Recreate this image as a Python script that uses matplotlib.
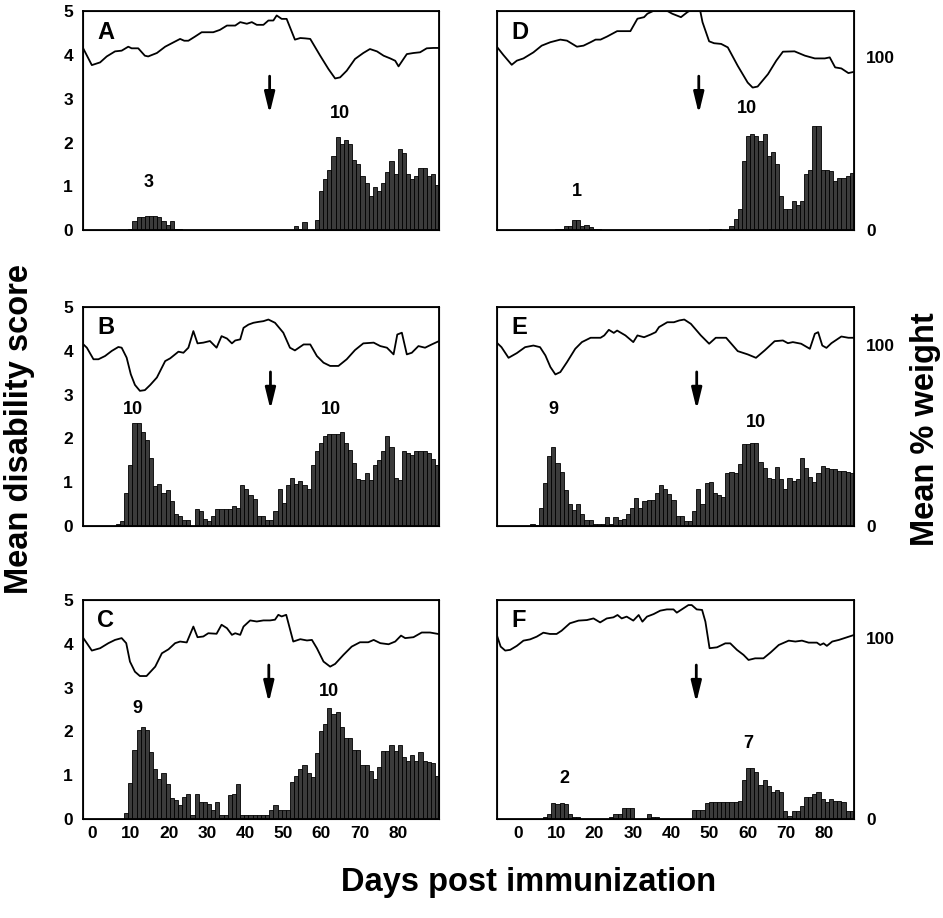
import numpy as np
import matplotlib
matplotlib.use("Agg")
import matplotlib.pyplot as plt

plt.rcParams["font.family"] = ["Liberation Sans", "DejaVu Sans"]
plt.rcParams["font.weight"] = "bold"

# bar slots (one bar per observation, 86 slots across each panel)
N_SLOTS = 86

score_A = ([0] * 11
           + [0.03, 0.2, 0.3, 0.3, 0.33, 0.33, 0.33, 0.3, 0.2, 0.12, 0.2, 0.03, 0.03]
           + [0] * 27
           + [0.08, 0.02, 0.19, 0, 0]
           + [0.23, 0.89, 1.16, 1.37, 1.69, 2.12, 1.96, 2.07, 1.96, 1.61,
              1.51, 1.23, 1.07, 0.78, 0.99, 0.89, 1.07, 1.33, 1.58, 1.28,
              1.86, 1.77, 1.28, 1.16, 1.23, 1.41, 1.41, 1.23, 1.28, 1.03])

score_B = ([0] * 8
           + [0.04, 0.1, 0.74, 1.4, 2.34, 2.34, 2.14, 1.97, 1.55, 0.92,
              0.95, 0.74, 0.81, 0.57, 0.26, 0.22, 0.12, 0.12, 0, 0.39,
              0.33, 0.15, 0.11, 0.22, 0.39, 0.39, 0.39, 0.39, 0.46, 0.41,
              0.93, 0.83, 0.71, 0.61, 0.23, 0.23, 0.13, 0.13, 0.33, 0.83,
              0.51, 0.93, 1.09, 0.95, 1.02, 0.93, 0.83, 1.4, 1.72, 1.89,
              2.06, 2.1, 2.1, 2.1, 2.14]
           + [1.89, 1.74, 1.43, 1.08, 1.04, 1.21, 1.05, 1.4, 1.51, 1.72,
              2.06, 1.8, 1.09, 1.04, 1.72, 1.66, 1.63, 1.72, 1.72, 1.72,
              1.66, 1.53, 1.38])

score_C = ([0] * 10
           + [0.13, 0.83, 1.57, 2.03, 2.1, 2.03, 1.53, 1.14, 0.91, 1.05,
              0.8, 0.47, 0.44, 0.31, 0.49, 0.58, 0.09, 0.58, 0.38, 0.38,
              0.34, 0.21, 0.38, 0.09, 0.09, 0.55, 0.58, 0.8]
           + [0.09] * 7
           + [0.21, 0.31, 0.21, 0.21, 0.21]
           + [0.84, 0.97, 1.15, 1.23, 1.05, 0.95, 1.51, 2.0, 2.17, 2.53,
              2.39, 2.45, 2.1, 1.85, 1.85, 1.58, 1.58, 1.23, 1.23, 1.09,
              0.91, 1.19, 1.55, 1.55, 1.68, 1.55, 1.68, 1.41, 1.32, 1.45,
              1.32, 1.53, 1.33, 1.3, 1.28, 0.97])

score_D = ([0] * 14
           + [0.02, 0.02, 0.1, 0.1, 0.22, 0.22, 0.1, 0.12, 0.06, 0.02, 0.02]
           + [0] * 26
           + [0.03, 0.03, 0.03, 0, 0]
           + [0.1, 0.25, 0.48, 1.58, 2.15, 2.19, 2.15, 2.04, 2.19, 1.69,
              1.79, 1.51, 0.77, 0.48, 0.48, 0.66, 0.58, 0.66, 1.27, 1.37,
              2.37, 2.37, 1.37, 1.37, 1.34, 1.12, 1.2, 1.2, 1.23, 1.31])

score_E = ([0] * 8
           + [0.04, 0.02]
           + [0.4, 0.98, 1.59, 1.8, 1.44, 1.23, 0.81, 0.49, 0.36, 0.49,
              0.26, 0.13, 0.13, 0.05, 0.05, 0.05, 0.2, 0.05, 0.2, 0.13,
              0.15, 0.26, 0.4, 0.64, 0.4, 0.57, 0.6, 0.59, 0.74, 0.93,
              0.83, 0.72, 0.6, 0.22, 0.22, 0.11, 0.11, 0.33, 0.83, 0.49,
              0.97, 1.0, 0.74, 0.7, 0.65, 1.21, 1.23, 1.21, 1.42, 1.88,
              1.88, 1.9, 1.9, 1.45, 1.31, 1.1, 1.06, 1.35, 1.06, 0.83,
              1.1, 1.02, 1.06, 1.56, 1.31, 1.12, 1.0, 1.21, 1.36, 1.33,
              1.29, 1.29, 1.25, 1.25, 1.23, 1.21])

score_F = ([0] * 11
           + [0.04, 0.11, 0.37, 0.35, 0.37, 0.33, 0.1, 0.04, 0.04]
           + [0] * 7
           + [0.04, 0.11, 0.11, 0.25, 0.25, 0.25]
           + [0] * 3
           + [0.11, 0.04, 0.04]
           + [0] * 8
           + [0.21, 0.21, 0.21, 0.36]
           + [0.38] * 7
           + [0.41, 0.88, 1.17, 1.17, 1.07, 0.77, 0.89, 0.75, 0.61, 0.67,
              0.61, 0.18, 0.06, 0.18, 0.18, 0.29, 0.5, 0.5, 0.58, 0.61,
              0.46, 0.38, 0.46, 0.41, 0.41, 0.38, 0.19, 0.19])

# weight curves (% of starting weight), x in bar-slot units
wx_A = [-0.5, 1.7, 3.7, 5.3, 7.3, 8.9, 10.5, 11.3, 12.9, 14.5, 15.3, 17.4, 19.4,
        21.4, 23, 24, 25, 26.6, 28.2, 31, 32.6, 34.3, 36.3, 37.5, 39.1, 40.3,
        41.5, 43.1, 44.3, 45.5, 46.3, 47.5, 48.7, 50.7, 52, 53.2, 54.4, 56.8,
        58.8, 60.4, 61.6, 63.2, 65.2, 67.2, 68.8, 70.5, 72.1, 73.7, 74.9, 75.7,
        76.9, 77.7, 79.3, 80.9, 82.5, 84.1, 85.5]
wy_A = [101.1, 91.3, 92.8, 96.1, 98.9, 99.3, 101.5, 100.6, 100.6, 96.5, 96.1,
        98, 101.5, 103.9, 105.8, 104.8, 104.8, 107.1, 109.5, 109.5, 110.8,
        113.2, 113.2, 115.1, 114.2, 115.1, 113.6, 113.6, 116, 116, 118.8,
        116.9, 116.9, 105.4, 106.3, 106.1, 105.8, 96.5, 89.1, 83.9, 84.5,
        88.2, 94.7, 98, 100.2, 98.9, 96.5, 95, 93.7, 90.6, 94.7, 97.4, 98,
        98.4, 100.6, 100.8, 100.8]

wx_B = [-0.5, 0.5, 2.1, 3.3, 4.9, 6.5, 8.1, 8.9, 10.1, 11.1, 12.1, 13.3, 14.5,
        15.8, 17.4, 19.4, 20.6, 22.6, 23.8, 25, 26.2, 27.2, 28.6, 30.2, 31.8,
        33, 34.3, 35.5, 36.3, 37.5, 38.3, 39.5, 40.7, 41.9, 43.1, 44.3, 45.9,
        47.9, 49.5, 50.7, 52.8, 54.4, 56, 57.6, 59.2, 61.2, 63.2, 65.2, 67.2,
        69.7, 71.3, 72.9, 74.5, 75.4, 76.5, 77.7, 78.9, 80.5, 82.1, 83.7, 85.5]
wy_B = [100.8, 98.6, 92.2, 92.2, 94, 96.8, 99, 98.6, 93.1, 83.9, 78, 74.7,
        75.1, 78, 82.1, 91.2, 92.7, 96.4, 95.8, 98.6, 107.8, 101, 101.4, 102.3,
        98.6, 105, 103.7, 101, 102.6, 103.2, 109.6, 111.4, 112.4, 112.9, 113.3,
        114.2, 112.4, 106.9, 98.6, 97.1, 100.4, 100.4, 94, 90.3, 88.5, 88.5,
        92.2, 97.3, 101, 101.4, 99.5, 98.6, 94.9, 105.9, 106.9, 94.9, 95.8,
        99.5, 98.6, 100.4, 102.3]

wx_C = [-0.5, 0.5, 1.7, 3.7, 5.7, 7.3, 8.9, 10, 10.9, 12.1, 13.3, 14.9, 17,
        18.6, 20.2, 21.8, 23, 24.6, 26.2, 27.2, 28.6, 29.8, 31.8, 33, 34.3,
        35.5, 36.3, 37.5, 38.3, 39.9, 41.5, 43.1, 44.7, 45.9, 46.7, 47.5, 48.6,
        50.3, 52, 53.6, 54.8, 56, 57.6, 59.2, 60.4, 62.4, 64.4, 66.4, 68.4,
        69.7, 71.3, 73.3, 74.9, 76.3, 77.3, 79.3, 81.3, 83.3, 85.5]
wy_C = [100.6, 97.3, 93.2, 94.5, 97.3, 99.1, 100.1, 97.3, 87.1, 81.5, 79.1,
        79.1, 84.3, 91.7, 93.9, 97.3, 98.2, 97.7, 106.5, 100.6, 101, 102.8,
        102.5, 107.5, 105.6, 101.9, 102.8, 101.9, 106.5, 109.9, 109.3, 109.9,
        109.9, 110.3, 113, 112.1, 113, 98.2, 99.5, 98.8, 99.1, 94.5, 87.1,
        84.3, 85.8, 90.8, 95.4, 97.8, 97.8, 99.1, 97.3, 96.7, 98.2, 101.5,
        100.1, 100.6, 103.2, 103.2, 102.3]

wx_D = [-0.5, 0.95, 2.97, 4.2, 5.8, 8.2, 10.2, 12.3, 14.7, 16.3, 18.7, 20.3,
        22, 23.2, 24.4, 26, 28.4, 31.6, 33.3, 34.9, 35.7, 38.1, 39.7, 41.7,
        43.8, 45.4, 48.2, 49, 50.6, 51.8, 53.5, 55.1, 57.5, 59.9, 61.1, 62.3,
        64.8, 66.8, 68.4, 71.2, 73.7, 76.1, 78.5, 79.7, 81, 82.5, 84.2, 85.5]
wy_D = [105.8, 101.4, 95.7, 98.1, 99.4, 102.9, 106.8, 108.8, 110.3, 109.7,
        106.2, 106.8, 108.8, 110.3, 110.3, 112.1, 115.2, 115.2, 122.4, 123.3,
        125.3, 128, 128, 125.3, 123.3, 126.3, 130, 120.4, 109.3, 108.2, 107.8,
        105.8, 95.1, 85.4, 82.5, 83.1, 90.3, 98.1, 103.3, 103.5, 101, 99.4,
        99.4, 100, 94.2, 93.6, 90.9, 91.6]

wx_E = [-0.5, 0.5, 2.2, 4.2, 6.2, 8.2, 9.8, 11.1, 12.3, 13.5, 14.7, 16.3,
        18.3, 19.9, 22, 24.4, 25.3, 26.4, 27.6, 28.4, 30.4, 32.3, 33.3, 34.9,
        36.5, 37.7, 38.5, 40.5, 42.1, 43.4, 44.6, 46.2, 48.6, 50.6, 52.2, 54.7,
        57.5, 59.9, 61.9, 64, 66.4, 68.4, 69.6, 70.8, 72.8, 74.9, 76.1, 76.9,
        77.9, 78.9, 80.1, 82.5, 84.2, 85.5]
wy_E = [101.1, 98.9, 93, 95.6, 98.9, 99.8, 98.9, 94.3, 87.9, 83.8, 85.1, 90.6,
        98, 101.7, 104.1, 104.1, 105.4, 108.5, 106.8, 108.1, 105.4, 101.7,
        105.4, 104.4, 105.9, 107.2, 110, 112.7, 112.7, 113.7, 114.2, 111.8,
        105.4, 100.8, 104.1, 104.1, 96.7, 94.9, 93, 97.1, 102.2, 102.6, 101.1,
        101.7, 100.8, 98, 106.3, 107.2, 99.8, 98.5, 101.1, 104.8, 104.1, 104.1]

wx_F = [-0.5, 0.3, 1.4, 2.6, 4.2, 5.8, 7.4, 9, 10.6, 12.2, 13.8, 15, 17, 19.1,
        21.1, 22.7, 24.3, 25.9, 27.5, 28.5, 29.5, 30.7, 32.3, 33.6, 34.5, 35.6,
        37.2, 38.8, 40.4, 42, 42.8, 44.4, 45.6, 46.4, 47.6, 48.9, 49.7, 50.7,
        52.5, 54.5, 55.7, 57.3, 58.9, 60.1, 61.7, 63.7, 65.4, 67.4, 69.8, 71.4,
        73, 74.6, 76.6, 77.4, 78.2, 79, 80.3, 81.9, 83.9, 85.5]
wy_F = [100.9, 95.4, 93.2, 93.6, 95.8, 98.7, 99.4, 100.9, 103.1, 102.4, 102.4,
        104.2, 108.3, 109.8, 110.1, 111, 108.8, 111, 111.6, 112.9, 111, 112,
        109.8, 112.9, 109.2, 112, 113.4, 115.3, 116, 116, 114.2, 116.6, 118.4,
        118.4, 116, 115.7, 109.2, 94.5, 95, 97.2, 97.2, 93.6, 90.8, 88, 88.9,
        88.9, 92.1, 96.3, 98.7, 98.2, 98.7, 97.6, 97.6, 96.3, 97.2, 95.8, 98.2,
        99.1, 100.6, 101.8]

# number of affected animals written over each bar cluster: (text, slot, score)
counts_A = [("3", 15.4, 1.09), ("10", 61.5, 2.66)]
counts_B = [("10", 11.6, 2.65), ("10", 59.3, 2.65)]
counts_C = [("9", 12.7, 2.53), ("10", 58.8, 2.91)]
counts_D = [("1", 18.6, 0.88), ("10", 59.6, 2.77)]
counts_E = [("9", 12.9, 2.66), ("10", 61.9, 2.37)]
counts_F = [("2", 15.6, 0.92), ("7", 60.1, 1.72)]

# treatment arrow slot per panel
arrow_A, arrow_B, arrow_C = 44.6, 44.8, 44.4
arrow_D, arrow_E, arrow_F = 48.1, 47.6, 47.5

day_ticks = [0, 10, 20, 30, 40, 50, 60, 70, 80]

panels = [
    ("A", score_A, wx_A, wy_A, counts_A, arrow_A, 121.0, "left", 0),
    ("B", score_B, wx_B, wy_B, counts_B, arrow_B, 121.0, "left", 1),
    ("C", score_C, wx_C, wy_C, counts_C, arrow_C, 121.0, "left", 2),
    ("D", score_D, wx_D, wy_D, counts_D, arrow_D, 126.6, "right", 0),
    ("E", score_E, wx_E, wy_E, counts_E, arrow_E, 121.0, "right", 1),
    ("F", score_F, wx_F, wy_F, counts_F, arrow_F, 121.0, "right", 2),
]

col_x = {"left": 0.0877, "right": 0.5274}
row_y = [0.7495, 0.4273, 0.108]
ax_w, ax_h = 0.378, 0.238
# where the day labels sit, in slot units (offset, slots per day)
tick_map = {"left": (1.82, 0.921), "right": (4.44, 0.925)}

fig = plt.figure(figsize=(9.43, 9.18), dpi=100)

slots = np.arange(N_SLOTS)
for letter, score, wx, wy, counts, arrow_x, wtop, side, row in panels:
    ax = fig.add_axes([col_x[side], row_y[row], ax_w, ax_h])
    ax.bar(slots, score, width=1.0, color="#3b3b3b", edgecolor="black",
           linewidth=0.6, zorder=2)
    ax.set_xlim(-0.5, N_SLOTS - 0.5)
    ax.set_ylim(0, 5)
    for sp in ax.spines.values():
        sp.set_linewidth(1.3)

    tw = ax.twinx()
    tw.plot(wx, wy, color="black", linewidth=1.3)
    tw.set_ylim(0, wtop)

    ax.tick_params(length=0, labelsize=12.5, pad=7)
    tw.tick_params(length=0, labelsize=12.5, pad=9)
    if side == "left":
        ax.set_yticks(range(6))
        ax.set_yticklabels([str(v) for v in range(6)], fontweight="bold")
        tw.set_yticks([])
    else:
        ax.set_yticks([])
        tw.set_yticks([0, 100])
        tw.set_yticklabels(["0", "100"], fontweight="bold")

    if row == 2:
        off, k = tick_map[side]
        ax.set_xticks([off + k * d for d in day_ticks])
        ax.set_xticklabels([str(d) for d in day_ticks], fontweight="bold")
        ax.tick_params(axis="x", pad=5)
    else:
        ax.set_xticks([])

    ax.text(3.0, 4.53, letter, fontsize=17, fontweight="bold",
            ha="left", va="center")
    for txt, sx, sy in counts:
        ax.text(sx, sy, txt, fontsize=13, fontweight="bold",
                ha="center", va="center")
    ax.annotate("", xy=(arrow_x, 2.66), xytext=(arrow_x, 3.52),
                arrowprops=dict(arrowstyle="-|>,head_width=0.22,head_length=0.9",
                                lw=2.0, color="black", shrinkA=0, shrinkB=0,
                                mutation_scale=14))

fig.text(0.021, 0.533, "Mean disability score", rotation=90, fontsize=23.5,
         fontweight="bold", ha="center", va="center")
fig.text(0.981, 0.533, "Mean % weight", rotation=90, fontsize=23.5,
         fontweight="bold", ha="center", va="center")
fig.text(0.561, 0.039, "Days post immunization", fontsize=23.5,
         fontweight="bold", ha="center", va="center")

fig.savefig("out.png", dpi=100)
